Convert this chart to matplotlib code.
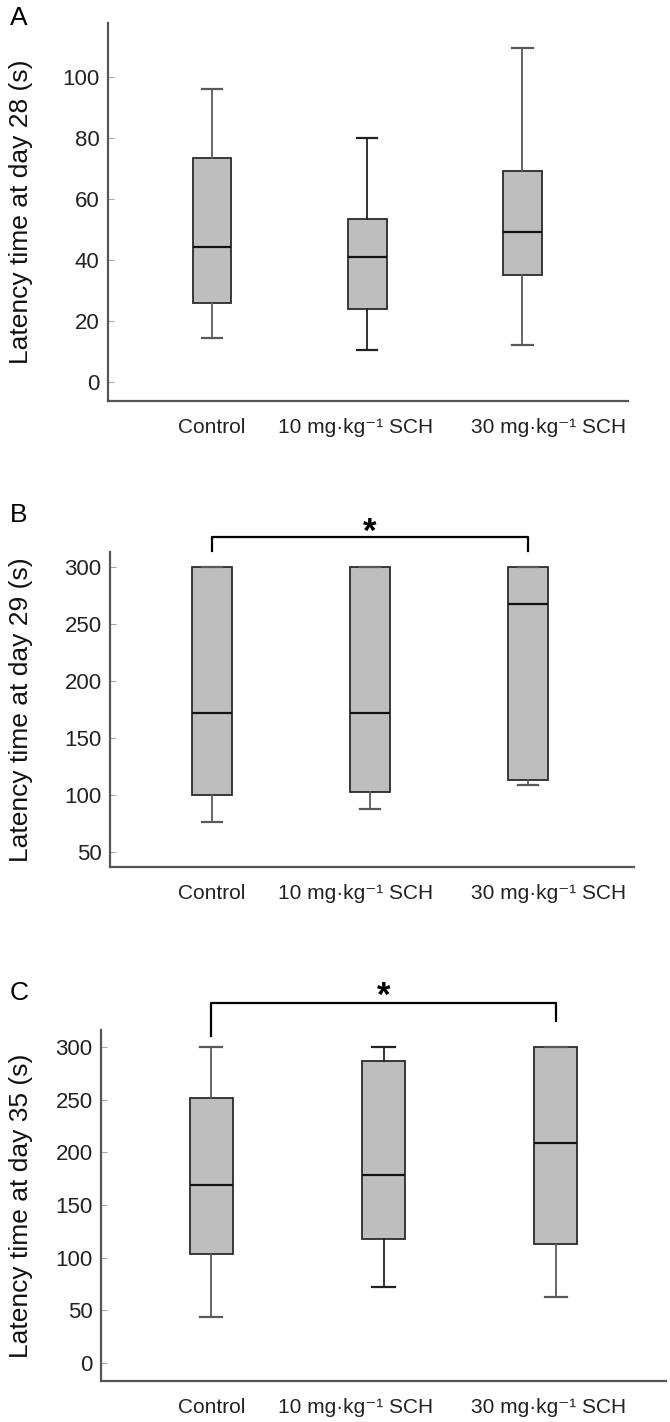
import matplotlib
matplotlib.use('Agg')
import matplotlib.pyplot as plt

plt.rcParams['font.family'] = ['Liberation Sans', 'DejaVu Sans']

# datos: minimo, Q1, mediana, Q3, maximo
grupos = ['Control', '10 mg·kg⁻¹ SCH', '30 mg·kg⁻¹ SCH']

dia28_min = [14.2, 10.4, 12]
dia28_q1 = [25.9, 23.8, 35]
dia28_med = [44.1, 40.9, 49]
dia28_q3 = [73.2, 53.3, 69.2]
dia28_max = [96, 80, 109.5]

dia29_min = [76, 88, 109]
dia29_q1 = [100, 103, 113.5]
dia29_med = [172, 172, 268]
dia29_q3 = [300, 300, 300]
dia29_max = [300, 300, 300]

dia35_min = [44, 72, 63]
dia35_q1 = [103, 118, 112.5]
dia35_med = [169, 178.5, 209]
dia35_q3 = [252, 287, 300]
dia35_max = [300, 300, 300]

W, H = 670, 1422
fig = plt.figure(figsize=(W / 100, H / 100), dpi=100)

# centros de las etiquetas del eje x en pixeles (iguales en los 3 paneles)
etiq_px = [212, 356, 549]


def panel(caja_px, mins, q1s, meds, q3s, maxs, dia, ylim, yticks, xlim, letra, letra_y,
          oscuro=False):
    x0, y0, x1, y1 = caja_px
    ax = fig.add_axes([x0 / W, 1 - y1 / H, (x1 - x0) / W, (y1 - y0) / H])
    stats = []
    for i in range(len(grupos)):
        stats.append({'whislo': mins[i], 'q1': q1s[i], 'med': meds[i],
                      'q3': q3s[i], 'whishi': maxs[i], 'fliers': []})
    bp = ax.bxp(stats, positions=[1, 2, 3], widths=0.25, capwidths=0.13,
                patch_artist=True, showfliers=False,
                boxprops=dict(facecolor='#bebebe', edgecolor='#2b2b2b', linewidth=1.3),
                medianprops=dict(color='#111111', linewidth=1.6),
                whiskerprops=dict(color='#5a5a5a', linewidth=1.3),
                capprops=dict(color='#5a5a5a', linewidth=1.6))
    if oscuro:
        # el grupo de 10 mg tiene bigotes mas oscuros
        for l in bp['whiskers'][2:4] + bp['caps'][2:4]:
            l.set_color('#222222')
    ax.set_ylim(ylim)
    ax.set_xlim(xlim)
    ax.set_yticks(yticks)
    # etiquetas del eje x en su posicion de la figura original
    ticks = [xlim[0] + (p - x0) / (x1 - x0) * (xlim[1] - xlim[0]) for p in etiq_px]
    ax.set_xticks(ticks)
    ax.set_xticklabels(grupos, fontsize=15, color='#222222')
    ax.tick_params(axis='x', length=0, pad=12)
    ax.tick_params(axis='y', direction='in', length=4, color='#aaaaaa',
                   labelsize=16, labelcolor='#222222', pad=6)
    ax.spines['top'].set_visible(False)
    ax.spines['right'].set_visible(False)
    for s in ['left', 'bottom']:
        ax.spines[s].set_color('#555555')
        ax.spines[s].set_linewidth(1.6)
    ax.set_ylabel('Latency time at day %d (s)' % dia, fontsize=19, color='#111111')
    ax.yaxis.set_label_coords((33 - x0) / (x1 - x0), 0.5)
    fig.text(10 / W, 1 - letra_y / H, letra, fontsize=19, va='center', ha='left')
    return ax


axA = panel((108, 22.7, 628, 401), dia28_min, dia28_q1, dia28_med, dia28_q3, dia28_max,
            28, (-6.3, 117.7), [0, 20, 40, 60, 80, 100], (0.33, 3.68), 'A', 18, oscuro=True)

axB = panel((110, 552, 634, 867), dia29_min, dia29_q1, dia29_med, dia29_q3, dia29_max,
            29, (36.8, 313.2), [50, 100, 150, 200, 250, 300], (0.355, 3.67), 'B', 515)
# corchete de significancia
axB.plot([1, 1, 3, 3], [314, 326, 326, 314], color='black', lw=1.6, clip_on=False)
axB.text(2, 322.5, '*', ha='center', va='baseline', fontsize=25, fontweight='bold')

axC = panel((101, 1030, 666, 1381), dia35_min, dia35_q1, dia35_med, dia35_q3, dia35_max,
            35, (-17.1, 316.1), [0, 50, 100, 150, 200, 250, 300], (0.36, 3.64), 'C', 993,
            oscuro=True)
axC.plot([1, 1, 3, 3], [310, 342, 342, 325], color='black', lw=1.6, clip_on=False)
axC.text(2, 339, '*', ha='center', va='baseline', fontsize=25, fontweight='bold')

fig.savefig('out.png', dpi=100)
